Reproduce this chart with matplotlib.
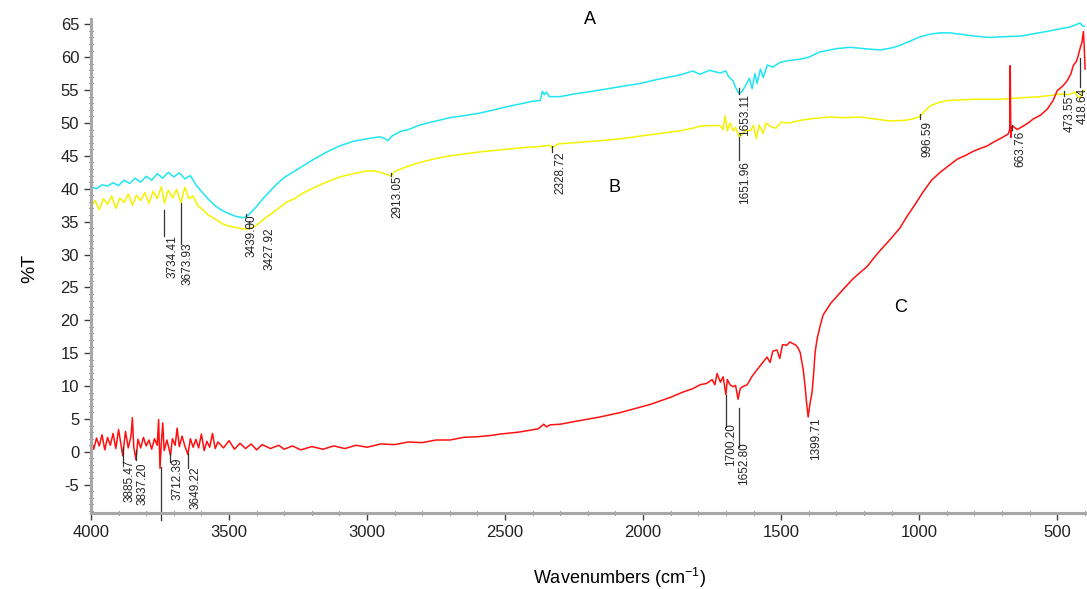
import numpy as np
from matplotlib import pyplot as plt
from matplotlib.ticker import MultipleLocator

plt.rcParams['font.family'] = ['Liberation Sans', 'DejaVu Sans']
plt.rcParams['axes.unicode_minus'] = False

# Спектр A (голубой)
wn_a = [4000, 3980, 3960, 3940, 3920, 3900, 3880, 3860, 3840, 3820, 3800, 3780, 3760, 3740,
        3720, 3700, 3680, 3660, 3640, 3620, 3600, 3575, 3550, 3525, 3500, 3475, 3450, 3439,
        3425, 3400, 3375, 3350, 3325, 3300, 3250, 3200, 3150, 3100, 3050, 3000, 2953, 2935,
        2924, 2910, 2880, 2850, 2808, 2750, 2700, 2650, 2591, 2500, 2400, 2373, 2365, 2358,
        2350, 2340, 2301, 2250, 2156, 2100, 2011, 1950, 1866, 1820, 1794, 1760, 1721, 1700,
        1690, 1674, 1665, 1652, 1640, 1630, 1615, 1605, 1595, 1587, 1575, 1565, 1550, 1530,
        1504, 1470, 1431, 1400, 1359, 1300, 1250, 1200, 1141, 1100, 1069, 1030, 997, 960,
        924, 890, 852, 800, 743, 700, 634, 580, 526, 490, 453, 435, 417, 410, 402]
t_a = [40.3, 40.0, 40.6, 40.4, 40.9, 40.5, 41.3, 40.8, 41.6, 41.0, 41.9, 41.3, 42.3, 41.6,
       42.5, 41.8, 42.4, 41.5, 42.0, 40.6, 39.6, 38.4, 37.4, 36.7, 36.2, 35.8, 35.6, 35.7,
       36.2, 37.3, 38.6, 39.7, 40.8, 41.7, 43.0, 44.3, 45.5, 46.5, 47.2, 47.6, 47.9, 47.6,
       47.3, 48.0, 48.7, 49.0, 49.7, 50.3, 50.8, 51.1, 51.5, 52.4, 53.3, 53.4, 54.8, 54.3,
       54.7, 54.0, 54.0, 54.4, 55.0, 55.4, 56.0, 56.6, 57.3, 57.9, 57.4, 58.0, 57.6, 57.9,
       57.0, 56.4, 55.4, 54.4, 54.9, 55.6, 56.8, 55.2, 57.5, 56.0, 58.2, 56.9, 58.8, 58.5,
       59.2, 59.5, 59.7, 60.0, 60.8, 61.3, 61.5, 61.3, 61.1, 61.4, 61.8, 62.5, 63.1, 63.5,
       63.7, 63.7, 63.5, 63.2, 63.0, 63.1, 63.2, 63.6, 64.0, 64.3, 64.6, 64.9, 65.2, 64.8, 64.7]

# Спектр B (жёлтый)
wn_b = [4000, 3985, 3970, 3955, 3940, 3925, 3910, 3895, 3880, 3865, 3850, 3835, 3820, 3805,
        3790, 3775, 3760, 3745, 3734, 3720, 3705, 3690, 3674, 3660, 3645, 3630, 3615, 3600,
        3575, 3550, 3525, 3500, 3475, 3450, 3428, 3410, 3390, 3370, 3340, 3315, 3290, 3261,
        3243, 3200, 3170, 3130, 3098, 3050, 3000, 2970, 2953, 2930, 2913, 2900, 2860, 2808,
        2750, 2700, 2663, 2591, 2518, 2450, 2380, 2337, 2328, 2310, 2250, 2156, 2080, 2011,
        1940, 1866, 1820, 1794, 1760, 1721, 1710, 1703, 1695, 1685, 1674, 1665, 1652, 1640,
        1630, 1612, 1600, 1590, 1580, 1565, 1555, 1540, 1520, 1500, 1470, 1431, 1380, 1323,
        1270, 1214, 1160, 1105, 1050, 1015, 997, 980, 960, 930, 900, 852, 800, 707, 640, 562,
        520, 489, 460, 435, 425, 417, 410, 402]
t_b = [37.3, 38.2, 36.8, 38.5, 37.6, 38.9, 37.0, 38.6, 37.9, 39.2, 37.5, 39.0, 38.2, 39.4,
       37.8, 39.6, 38.5, 40.3, 37.8, 39.8, 38.6, 39.9, 37.9, 40.2, 38.5, 38.9, 37.5, 37.0,
       36.0, 35.4, 34.7, 34.3, 34.1, 33.9, 33.9, 34.2, 34.8, 35.5, 36.4, 37.2, 38.0, 38.5,
       39.1, 40.0, 40.6, 41.3, 41.8, 42.3, 42.7, 42.7, 42.5, 42.2, 41.9, 42.6, 43.3, 44.0,
       44.6, 45.0, 45.2, 45.6, 45.9, 46.2, 46.4, 46.6, 46.2, 46.8, 47.0, 47.3, 47.6, 48.0,
       48.4, 48.8, 49.2, 49.5, 49.6, 49.6, 49.0, 51.1, 48.8, 50.0, 48.8, 49.3, 47.9, 48.3,
       48.9, 48.8, 49.6, 47.6, 49.7, 48.4, 50.0, 49.5, 49.2, 50.1, 50.0, 50.4, 50.7, 50.9,
       50.8, 50.9, 50.6, 50.3, 50.4, 50.7, 51.0, 51.8, 52.6, 53.1, 53.4, 53.5, 53.6, 53.6,
       53.8, 54.0, 54.2, 54.4, 54.3, 54.7, 54.0, 53.8, 54.6, 54.9]

# Спектр C (красный)
wn_c = [4000, 3990, 3980, 3970, 3960, 3950, 3940, 3930, 3920, 3910, 3900, 3890, 3885, 3875,
        3865, 3855, 3850, 3845, 3837, 3830, 3820, 3810, 3800, 3790, 3780, 3770, 3760, 3755,
        3750, 3745, 3740, 3735, 3725, 3712, 3705, 3695, 3688, 3680, 3670, 3660, 3649, 3640,
        3630, 3620, 3610, 3600, 3590, 3580, 3570, 3560, 3550, 3540, 3520, 3500, 3480, 3460,
        3440, 3420, 3400, 3380, 3350, 3320, 3300, 3270, 3240, 3200, 3160, 3120, 3080, 3040,
        3000, 2950, 2900, 2850, 2800, 2750, 2700, 2650, 2600, 2550, 2518, 2450, 2380, 2360,
        2350, 2337, 2300, 2250, 2156, 2080, 1975, 1900, 1855, 1820, 1794, 1770, 1750, 1740,
        1732, 1720, 1710, 1700, 1695, 1685, 1674, 1665, 1656, 1648, 1640, 1623, 1605, 1587,
        1570, 1551, 1540, 1530, 1515, 1505, 1495, 1480, 1468, 1455, 1449, 1440, 1431, 1420,
        1413, 1408, 1402, 1396, 1388, 1382, 1377, 1370, 1359, 1348, 1320, 1286, 1240, 1188,
        1150, 1105, 1070, 1044, 1015, 986, 955, 924, 890, 862, 830, 804, 780, 754, 730, 707,
        690, 678, 672, 670, 668, 665, 660, 645, 624, 605, 587, 560, 536, 515, 500, 480, 464,
        450, 442, 430, 424, 416, 410, 405, 402, 399]
t_c = [1.8, 0.4, 2.1, 0.9, 2.6, 0.3, 2.2, 1.0, 2.8, 0.5, 3.4, 0.8, -0.6, 3.1,
       0.6, 2.4, 5.2, 0.7, -1.2, 1.9, 0.6, 2.2, 0.9, 1.8, 0.4, 2.0, 1.0, 4.9,
       -2.5, 1.5, 4.4, 0.2, 1.8, -0.5, 2.0, 1.0, 3.6, 0.8, 2.4, 0.9, -0.4, 2.0,
       0.7, 1.9, 0.6, 2.7, 0.2, 1.6, 0.7, 2.8, 0.5, 1.5, 0.6, 1.7, 0.4, 1.3,
       0.5, 1.2, 0.3, 1.1, 0.5, 1.0, 0.4, 0.9, 0.3, 0.8, 0.4, 0.9, 0.5, 1.0,
       0.7, 1.2, 1.1, 1.5, 1.4, 1.8, 1.8, 2.2, 2.3, 2.5, 2.7, 3.0, 3.5, 4.2,
       3.8, 4.1, 4.2, 4.6, 5.3, 6.0, 7.2, 8.3, 9.1, 9.6, 10.2, 10.4, 11.0, 10.2,
       11.9, 10.6, 11.4, 8.7, 11.0, 10.2, 9.9, 10.1, 8.0, 9.6, 9.9, 10.2, 11.5, 12.5,
       13.4, 14.4, 13.6, 15.3, 15.5, 14.2, 16.3, 16.2, 16.7, 16.4, 16.3, 15.9, 15.1, 12.5,
       9.9, 7.5, 5.3, 7.2, 9.0, 12.0, 15.1, 17.1, 19.1, 20.8, 22.6, 24.2, 26.3, 28.2,
       30.2, 32.3, 34.0, 35.8, 37.6, 39.5, 41.3, 42.5, 43.6, 44.5, 45.1, 45.7, 46.1, 46.5, 47.1, 47.6,
       48.0, 48.3, 49.0, 58.7, 47.8, 49.4, 49.5, 49.0, 49.5, 50.0, 50.6, 51.2, 52.1, 53.4, 54.9, 55.6, 56.4,
       57.5, 58.7, 59.4, 60.2, 61.5, 62.3, 63.9, 61.5, 58.2]

# Подписи пиков: текст, x текста, верх текста
peak_labels = ['3734.41', '3673.93', '3439.00', '3427.92', '2913.05', '2328.72', '1653.11',
               '1651.96', '996.59', '663.76', '473.55', '418.64', '1700.20', '1652.80',
               '1399.71', '3885.47', '3837.20', '3712.39', '3649.22']
peak_text_x = [3703, 3652, 3417, 3352, 2891, 2301, 1630, 1630, 971, 634, 454, 407, 1681, 1634,
               1373, 3859, 3812, 3685, 3623]
peak_text_y = [32.9, 31.9, 36.1, 34.1, 42.1, 45.6, 54.4, 44.2, 50.3, 48.8, 54.1, 55.3, 4.4, 1.4,
               5.3, -1.2, -1.6, -0.9, -2.3]

# Выносные линии: x, верх, низ
lead_x = [3734.41, 3673.93, 3439.0, 3427.92, 2913.05, 2328.72, 1653.11, 1651.96, 996.59,
          663.76, 473.55, 418.64, 1700.2, 1652.8, 3885.47, 3837.2, 3712.39, 3649.22, 3745]
lead_top = [36.7, 37.9, 36.2, 35.1, 42.4, 46.5, 55.3, 47.8, 51.4, 49.7, 54.8, 59.8, 8.7, 6.7,
            0.8, 0.3, -0.2, -0.1, -2.3]
lead_bot = [32.8, 31.6, 35.8, 34.2, 41.9, 45.6, 54.4, 44.3, 50.6, 48.9, 54.1, 55.4, 3.8, 0.7,
            -1.7, -1.2, -1.5, -2.4, -10.4]


def main():
    fig = plt.figure(figsize=(10.87, 5.89), dpi=100)
    ax = fig.add_axes([0.0837, 0.129, 0.9163, 0.8387])

    ax.plot(wn_a, t_a, color='#1ee6f2', lw=1.1)
    ax.plot(wn_b, t_b, color='#f5f200', lw=1.1)
    ax.plot(wn_c, t_c, color='#ff1010', lw=1.1)

    for x, y0, y1 in zip(lead_x, lead_top, lead_bot):
        ax.plot([x, x], [y0, y1], color='#333333', lw=0.9, clip_on=False)
    for s, x, y in zip(peak_labels, peak_text_x, peak_text_y):
        ax.text(x, y, s, rotation=90, ha='center', va='top', fontsize=8.5,
                color='#222222', clip_on=False)

    ax.text(2192, 65.7, 'A', fontsize=13, ha='center', va='center', clip_on=False)
    ax.text(2102, 40.2, 'B', fontsize=13, ha='center', va='center')
    ax.text(1069, 21.9, 'C', fontsize=13, ha='center', va='center')

    ax.set_xlim(4000, 392)
    ax.set_ylim(-9.3, 65.8)
    ax.xaxis.set_minor_locator(MultipleLocator(100))
    ax.yaxis.set_minor_locator(MultipleLocator(1))
    ax.set_xticks([4000, 3500, 3000, 2500, 2000, 1500, 1000, 500])
    ax.set_yticks(np.arange(-5, 66, 5))

    for side in ['top', 'right']:
        ax.spines[side].set_visible(False)
    for side in ['left', 'bottom']:
        ax.spines[side].set_color('#a8a8a8')
        ax.spines[side].set_linewidth(2.2)
    ax.tick_params(which='major', direction='out', length=5, width=1, color='#404040',
                   labelsize=12, labelcolor='#222222')
    ax.tick_params(which='minor', direction='inout', length=3, width=0.8, color='#404040')

    fig.text(0.027, 0.545, '%T', rotation=90, fontsize=14, ha='center', va='center')
    fig.text(0.57, 0.018, r'Wavenumbers (cm$^{\mathregular{-1}}$)', fontsize=13,
             ha='center', va='center')

    fig.savefig('out.png', dpi=100)


if __name__ == '__main__':
    main()
